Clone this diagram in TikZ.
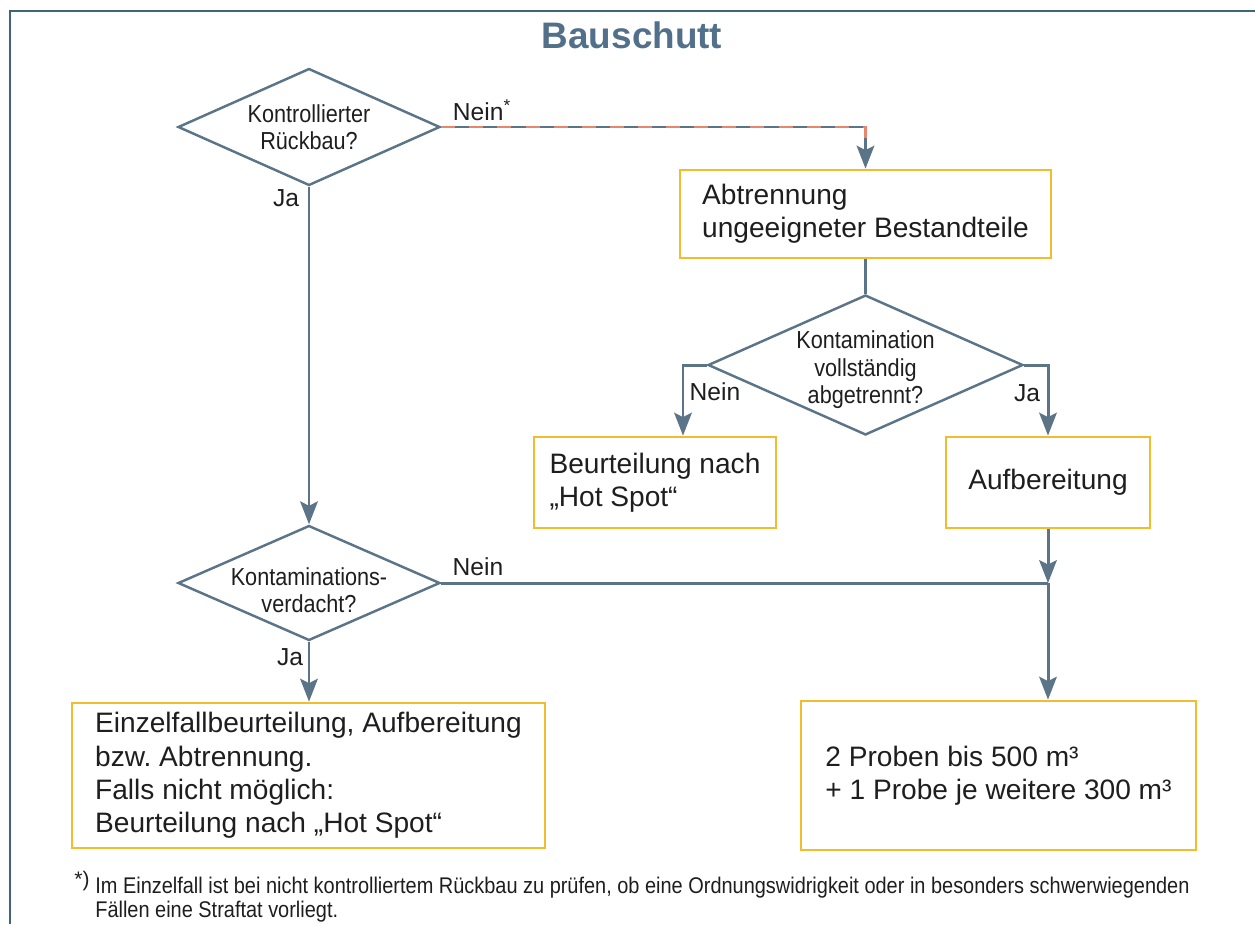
\documentclass[tikz,border=0pt]{standalone}
\usepackage{fontspec}
\setmainfont{Liberation Sans}
\newfontfamily\condfont[FakeStretch=0.88]{Liberation Sans}
\usetikzlibrary{arrows.meta,positioning,shapes.geometric,calc}
\frenchspacing

\definecolor{framecol}{HTML}{3F6577}
\definecolor{linecol}{HTML}{5B7487}
\definecolor{titlecol}{HTML}{52708A}
\definecolor{boxcol}{HTML}{F2BC2E}
\definecolor{dashcol}{HTML}{E8866C}
\definecolor{txtcol}{HTML}{1E1E1E}

\tikzset{
  flow/.style={draw=linecol, line width=1.7pt, -{Stealth[length=13pt,width=10pt,inset=2.5pt]}},
  plain/.style={draw=linecol, line width=1.7pt},
  box/.style={rectangle, draw=boxcol, line width=1.6pt, fill=white, inner sep=0pt,
    align=left, font=\fontsize{16}{19}\selectfont, text=txtcol},
  decision/.style={diamond, draw=linecol, line width=1.4pt, inner sep=0pt},
  dtext/.style={font=\condfont\fontsize{14}{15.6}\selectfont, align=center, text=txtcol},
  lbl/.style={font=\fontsize{14}{16}\selectfont, text=txtcol},
}

\begin{document}
\begin{tikzpicture}[x=0.02cm, y=-0.02cm]
      \useasboundingbox (0,0) rectangle (1255,924);
      \draw[framecol, line width=1.7pt] (1255,11) -| (10,924);

      \node[font=\bfseries\fontsize{21}{24}\selectfont, text=titlecol] (titel) at (632,35) {Bauschutt};

      % Entscheidungen
      \node[decision, minimum width=5.24cm, minimum height=2.34cm,
        label={[dtext]center:Kontrollierter\\Rückbau?}] (rueckbau) at (309,127) {};
      \node[decision, minimum width=6.3cm, minimum height=2.8cm,
        label={[dtext, yshift=-0.1cm]center:Kontamination\\vollständig\\abgetrennt?}] (abgetrennt) at (865.5,365) {};
      \node[decision, minimum width=5.24cm, minimum height=2.3cm,
        label={[dtext, yshift=-0.14cm]center:Kontaminations-\\verdacht?}] (kverdacht) at (309,583) {};

      % Kaesten
      \node[box, minimum width=7.42cm, minimum height=1.76cm] (abtrennung) at (865.5,214)
        {Abtrennung\\ungeeigneter Bestandteile};
      \node[box, minimum width=4.84cm, minimum height=1.82cm] (hotspot) at (655,482.5)
        {Beurteilung nach\\„Hot Spot“};
      \node[box, align=center, minimum width=4.08cm, minimum height=1.82cm] (aufbereitung) at (1048,482.5)
        {Aufbereitung};
      \node[box, minimum width=9.46cm, minimum height=2.9cm] (einzel) at (308.5,775.5)
        {Einzelfallbeurteilung, Aufbereitung\\bzw. Abtrennung.\\Falls nicht möglich:\\Beurteilung nach „Hot Spot“};
      \node[box, minimum width=7.9cm, minimum height=2.98cm] (proben) at (998.5,775.5)
        {2 Proben bis 500 m³\\+ 1 Probe je weitere 300 m³};

      % Verbindungen
      \draw[flow] (rueckbau.south) -- (kverdacht.north);
      \draw[flow] (rueckbau.east) -| (abtrennung.north);
      \draw[dashcol, line width=1.7pt, dash pattern=on 8pt off 8pt] (rueckbau.east) -| ([yshift=0.34cm]abtrennung.north);
      \draw[plain] (abtrennung.south) -- (abgetrennt.north);
      \draw[flow] (abgetrennt.west) -| ([xshift=0.56cm]hotspot.north);
      \draw[flow] (abgetrennt.east) -| (aufbereitung.north);
      \coordinate (treffpunkt) at (aufbereitung.south |- kverdacht.east);
      \draw[flow] (aufbereitung.south) -- (treffpunkt);
      \draw[plain] (kverdacht.east) -- (treffpunkt);
      \draw[flow] (treffpunkt) -- (treffpunkt |- proben.north);
      \draw[flow] (kverdacht.south) -- (kverdacht.south |- einzel.north);

      \node[lbl] (ja1) at (286,198) {Ja};
      \node[lbl] (nein1) at (482,110) {Nein\textsuperscript{*}};
      \node[lbl] (nein3) at (715,392) {Nein};
      \node[lbl] (ja3) at (1027,393) {Ja};
      \node[lbl] (nein2) at (478,567) {Nein};
      \node[lbl] (ja2) at (290,657) {Ja};

      % Fussnote
      \node[font=\fontsize{12}{13}\selectfont, text=txtcol, inner sep=0pt] (fnmark) at (82,881) {*)};
      \node[anchor=north west, inner sep=0pt, align=left, text=txtcol,
        font=\condfont\fontsize{12.9}{13.6}\selectfont] (fntext) at (95,877)
        {Im Einzelfall ist bei nicht kontrolliertem Rückbau zu prüfen, ob eine Ordnungswidrigkeit oder in besonders schwerwiegenden\\
         Fällen eine Straftat vorliegt.};
    \end{tikzpicture}
\end{document}
